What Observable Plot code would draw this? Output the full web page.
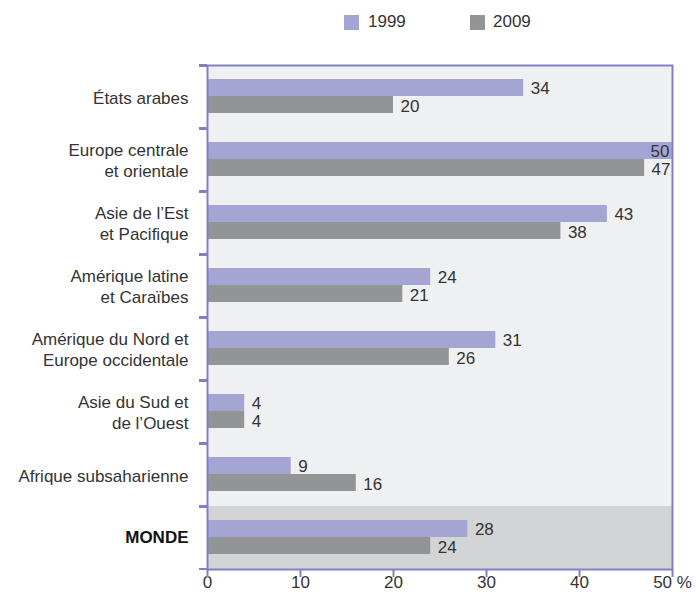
<!DOCTYPE html>
<html><head><meta charset="utf-8">
<script src="https://cdn.jsdelivr.net/npm/d3@7"></script>
<script src="https://cdn.jsdelivr.net/npm/@observablehq/plot@0.6"></script>
<style>
body{margin:0;background:#fff;font-family:"Liberation Sans",Arial,Helvetica,sans-serif;}
#wrap{position:relative;width:696px;height:600px;overflow:hidden;}
#legend{position:relative;height:44px;}
.sw{position:absolute;top:15px;width:15px;height:15px;}
.lb{position:absolute;top:12px;font-size:17px;color:#333;line-height:20px;}
</style></head><body>
<div id="wrap"><div id="legend"></div><div id="chart"></div></div>
<script>
const categories = [
  "États arabes",
  "Europe centrale\net orientale",
  "Asie de l’Est\net Pacifique",
  "Amérique latine\net Caraïbes",
  "Amérique du Nord et\nEurope occidentale",
  "Asie du Sud et\nde l’Ouest",
  "Afrique subsaharienne",
  "MONDE"
];
const values1999 = [34, 50, 43, 24, 31, 4, 9, 28];
const values2009 = [20, 47, 38, 21, 26, 4, 16, 24];
const years = ["1999", "2009"];
const xTicks = [0, 10, 20, 30, 40, 50];
const yearColors = ["#a5a5d3", "#939496"];

const axisColor = "#7f80c6";
const textColor = "#333333";

// legend
const legend = document.getElementById("legend");
const swX = [344, 470], lbX = [368, 493];
years.forEach((y, i) => {
  const s = document.createElement("div");
  s.className = "sw"; s.style.left = swX[i] + "px"; s.style.background = yearColors[i];
  legend.appendChild(s);
  const l = document.createElement("div");
  l.className = "lb"; l.style.left = lbX[i] + "px"; l.textContent = y;
  legend.appendChild(l);
});

const rows = categories.map((c, i) => ({cat: c, v1999: values1999[i], v2009: values2009[i]}));
const world = categories[categories.length - 1];

const plot = Plot.plot({
  width: 696,
  height: 556,
  marginTop: 21,
  marginBottom: 31,
  marginLeft: 207,
  marginRight: 24,
  style: {fontFamily: '"Liberation Sans", Arial, Helvetica, sans-serif', fontSize: "17px", color: textColor, background: "transparent"},
  x: {domain: [0, 50], ticks: xTicks, tickFormat: d => d === 50 ? "50 %" : String(d), tickSize: 0, tickPadding: 6, label: null},
  y: {domain: categories, padding: 0, axis: null},
  marks: [
    Plot.cell(categories.filter(c => c !== world), {y: d => d, fill: "#eff0f2"}),
    Plot.cell([world], {y: d => d, fill: "#d3d4d6"}),
    Plot.barX(rows, {x: "v1999", y: "cat", fill: yearColors[0], insetTop: 14, insetBottom: 32}),
    Plot.barX(rows, {x: "v2009", y: "cat", fill: yearColors[1], insetTop: 31, insetBottom: 15}),
    Plot.text(rows.filter(d => d.v1999 < 50), {x: "v1999", y: "cat", text: d => String(d.v1999), textAnchor: "start", dx: 7, dy: -8, fill: textColor}),
    Plot.text(rows.filter(d => d.v1999 >= 50), {x: "v1999", y: "cat", text: d => String(d.v1999), textAnchor: "end", dx: -3, dy: -8, fill: textColor}),
    Plot.text(rows, {x: "v2009", y: "cat", text: d => String(d.v2009), textAnchor: "start", dx: 7, dy: 10, fill: textColor}),
    Plot.text(categories.filter(c => c !== world), {y: d => d, text: d => d, frameAnchor: "left", textAnchor: "end", dx: -19, lineHeight: 1.2, fill: textColor}),
    Plot.text([world], {y: d => d, text: d => d, frameAnchor: "left", textAnchor: "end", dx: -19, fontWeight: "bold", fill: "#111"}),
    Plot.frame({stroke: axisColor, strokeWidth: 2}),
    Plot.cell(categories, {y: d => d, fill: axisColor, insetLeft: -8, insetRight: 465, insetTop: -1, insetBottom: 61}),
    Plot.cell([world], {y: d => d, fill: axisColor, insetLeft: -8, insetRight: 465, insetTop: 62, insetBottom: -1}),
    Plot.tickX(xTicks, {x: d => d, stroke: axisColor, strokeWidth: 2, insetTop: 504, insetBottom: -8})
  ]
});
document.getElementById("chart").appendChild(plot);
</script>
</body></html>
